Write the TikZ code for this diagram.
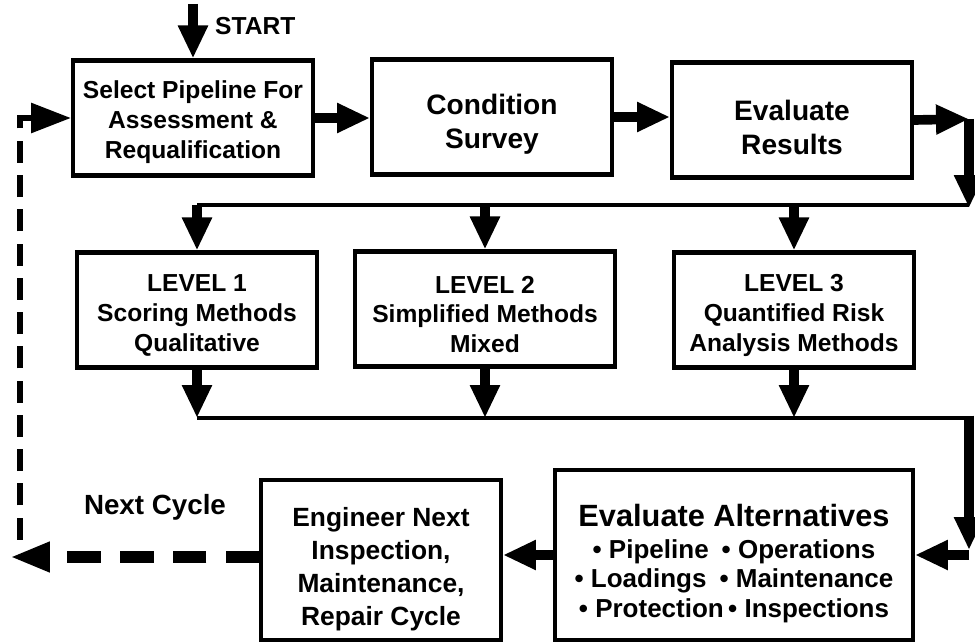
\documentclass[tikz,border=0pt]{standalone}
\usepackage{fontspec}
\setmainfont{Liberation Sans}
\usetikzlibrary{arrows.meta}
\newcommand{\lift}[1]{\rule{0pt}{#1}}
\begin{document}
\begin{tikzpicture}[x=0.02cm,y=-0.02cm,
  txt/.style={font=\fontsize{14}{17}\selectfont\bfseries},
  box/.style={txt,draw,line width=2.3pt,align=center,inner sep=0pt,minimum width=4.8cm,minimum height=2.3cm},
  flow/.style={line width=5.5pt,-{Triangle[length=0.66cm,width=0.56cm]}},
  bus/.style={line width=2.8pt},
  loopdash/.style={line width=3.4pt,dash pattern=on 12.5pt off 7pt,dash phase=17pt,-{Triangle[length=0.8cm,width=0.58cm]}},
  loopthick/.style={line width=6.8pt,dash pattern=on 19pt off 11pt,-{Triangle[length=0.8cm,width=0.56cm]}}]
\useasboundingbox (0,0) rectangle (975,642);
\node[box] (sel) at (193,118) {\lift{15pt}Select Pipeline For\\Assessment \&\\Requalification};
\node[box,font=\fontsize{16}{19}\selectfont\bfseries] (cond) at (492,117) {\lift{20pt}Condition\\Survey};
\node[box,font=\fontsize{16}{19}\selectfont\bfseries] (res) at (792,120) {\lift{20pt}Evaluate\\Results};
\node[box] (lv1) at (197,310) {\lift{16pt}LEVEL 1\\Scoring Methods\\Qualitative};
\node[box,minimum width=5.2cm] (lv2) at (485,309) {\lift{16pt}LEVEL 2\\Simplified Methods\\Mixed};
\node[box] (lv3) at (794,310) {\lift{16pt}LEVEL 3\\Quantified Risk\\Analysis Methods};
\node[box,minimum width=7.16cm,minimum height=3.4cm] (alt) at (734,555)
  {{\fontsize{17.5}{20}\selectfont\lift{22.5pt}Evaluate Alternatives}\\[1pt]
   {\fontsize{14.8}{18.5}\selectfont\textbullet\ Pipeline\enspace\textbullet\ Operations}\\
   {\fontsize{14.8}{18.5}\selectfont\textbullet\ Loadings\enspace\textbullet\ Maintenance}\\
   {\fontsize{14.8}{18.5}\selectfont\textbullet\ Protection\,\textbullet\ Inspections}};
\node[box,minimum height=3.2cm,font=\fontsize{15}{18.8}\selectfont\bfseries] (eng) at (381,560)
  {\lift{21pt}Engineer Next\\Inspection,\\Maintenance,\\Repair Cycle};
\node[txt,anchor=west] (startlbl) at (209,26) {START};
\node[txt,font=\fontsize{15.8}{19}\selectfont\bfseries] (nextlbl) at (155,507) {Next Cycle};
\coordinate (start) at (193,4);
\coordinate (rturn) at (969,119);
\coordinate (tbus) at (969,205);
\coordinate (bbus) at (969,418);
\coordinate (bturn) at (969,555);
\coordinate (ltip) at (10,557);
\coordinate (lcorner) at (20,544);
\draw[flow] (start) -- (sel.north);
\draw[flow] (sel.east) -- (cond.west |- sel.east);
\draw[flow] (cond.east) -- (res.west |- cond.east);
\draw[flow] (res.east) -- (rturn);
\draw[flow] (rturn) -- ([yshift=-0.06cm]tbus);
\draw[bus] (tbus) -- (tbus -| lv1.north);
\foreach \n in {lv1,lv2,lv3}
  \draw[flow] (tbus -| \n.north) -- (\n.north);
\foreach \n in {lv1,lv2,lv3}
  \draw[flow] (\n.south) -- (bbus -| \n.south);
\draw[bus] (bbus -| lv1.south) -- (bbus);
\draw[flow] ([yshift=0.05cm]bbus) -- ([yshift=0.1cm]bturn);
\draw[flow] (bturn) -- (alt.east);
\draw[flow] (alt.west) -- (eng.east |- alt.west);
\draw[loopthick] (eng.west |- ltip) -- (ltip);
\draw[loopdash] (lcorner) |- (sel.west);
\end{tikzpicture}
\end{document}
